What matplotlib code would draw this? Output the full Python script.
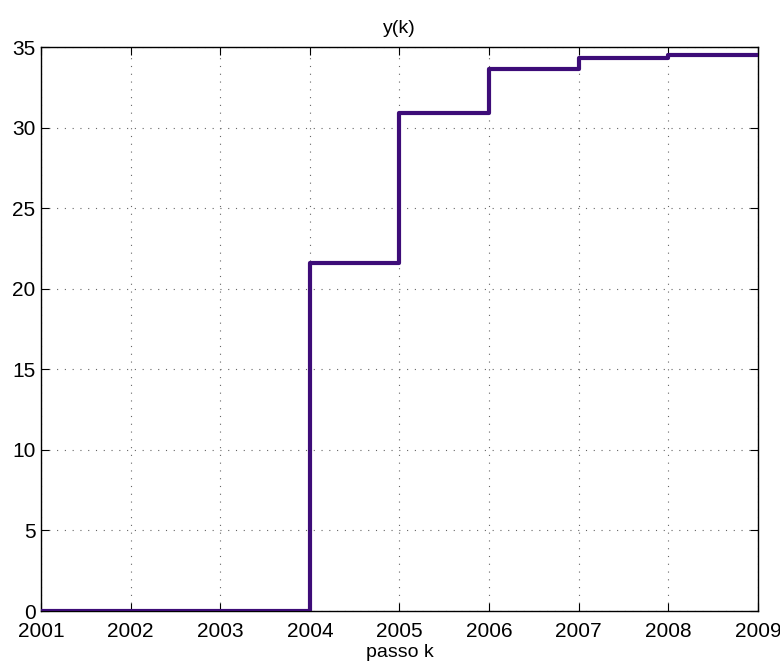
import numpy as np
import matplotlib.pyplot as plt
import matplotlib as mpl

mpl.rcParams["font.family"] = ["Liberation Sans", "DejaVu Sans"]

# uscita del sistema a ogni passo
anni = [2001, 2002, 2003, 2004, 2005, 2006, 2007, 2008, 2009]
y_k = [0.0, 0.0, 0.0, 21.6, 30.9, 33.65, 34.3, 34.5, 34.5]

fig = plt.figure(figsize=(7.8, 6.63), dpi=100)
ax = fig.add_axes([0.0526, 0.0784, 0.919, 0.8506])

ax.step(anni, y_k, where="post", color="#3d0c78", linewidth=3.0, zorder=3)

ax.set_xlim(2001, 2009)
ax.set_ylim(0, 35)
ax.set_xticks(anni)
ax.set_yticks(np.arange(0, 36, 5))
ax.grid(True, linestyle=(0, (1, 6)), color="0.4", linewidth=0.8)
ax.tick_params(direction="in", top=True, right=True, length=6, labelsize=15)
ax.tick_params(axis="x", pad=8)
ax.tick_params(axis="y", pad=4)
for s in ax.spines.values():
    s.set_linewidth(1.0)

ax.set_title("y(k)", fontsize=14, pad=10)
ax.set_xlabel("passo k", fontsize=14, labelpad=2)

fig.savefig("out.png", dpi=100)
